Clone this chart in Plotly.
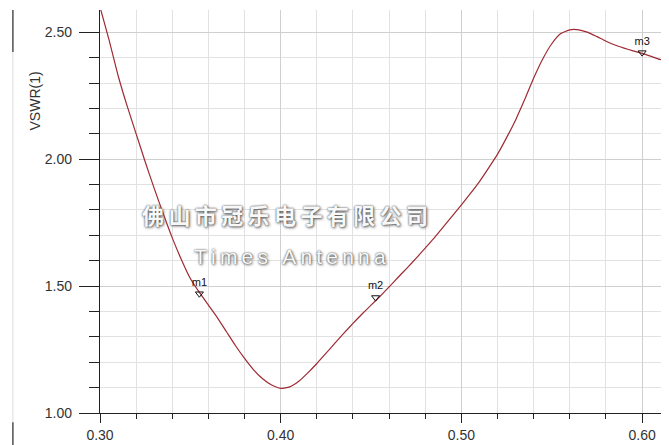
import plotly.graph_objects as go

# Frequency (GHz) and VSWR
freq = [0.300, 0.305, 0.310, 0.315, 0.320, 0.325, 0.330, 0.335, 0.340, 0.345,
        0.350, 0.355, 0.360, 0.365, 0.370, 0.375, 0.380, 0.385, 0.390, 0.395,
        0.400, 0.405, 0.410, 0.415, 0.420, 0.425, 0.430, 0.435, 0.440, 0.445,
        0.450, 0.455, 0.460, 0.465, 0.470, 0.475, 0.480, 0.485, 0.490, 0.495,
        0.500, 0.505, 0.510, 0.515, 0.520, 0.525, 0.530, 0.535, 0.540, 0.545,
        0.550, 0.555, 0.560, 0.565, 0.570, 0.575, 0.580, 0.585, 0.590, 0.595,
        0.600, 0.605, 0.610, 0.612]
vswr = [2.60, 2.47, 2.33, 2.21, 2.10, 1.99, 1.885, 1.785, 1.69, 1.605,
        1.53, 1.475, 1.425, 1.375, 1.32, 1.265, 1.215, 1.17, 1.135, 1.11,
        1.097, 1.103, 1.125, 1.158, 1.195, 1.235, 1.275, 1.315, 1.353, 1.39,
        1.425, 1.46, 1.497, 1.535, 1.572, 1.61, 1.65, 1.69, 1.733, 1.777,
        1.82, 1.865, 1.912, 1.965, 2.02, 2.085, 2.155, 2.235, 2.32, 2.395,
        2.455, 2.495, 2.51, 2.51, 2.50, 2.483, 2.465, 2.45, 2.438, 2.427,
        2.417, 2.405, 2.393, 2.39]

marker_names = ["m1", "m2", "m3"]
marker_x = [0.355, 0.4525, 0.600]
marker_y = [1.47, 1.455, 2.42]

y_title = "VSWR(1)"
watermark_cn = "佛山市冠乐电子有限公司"
watermark_en = "Times Antenna"

fig = go.Figure()
fig.add_trace(go.Scatter(x=freq, y=vswr, mode="lines",
                         line=dict(color="#9e2a33", width=1.2, shape="spline", smoothing=0.5),
                         showlegend=False, hoverinfo="skip"))
fig.add_trace(go.Scatter(x=marker_x, y=marker_y, mode="markers+text",
                         text=marker_names, textposition="top center",
                         textfont=dict(family="Liberation Sans, Arial", size=11, color="#111"),
                         marker=dict(symbol="triangle-down-open", size=7,
                                     color="#111", line=dict(width=1, color="#111")),
                         showlegend=False, hoverinfo="skip"))

tickfont = dict(family="Liberation Sans, Arial", size=14, color="#333")

fig.update_xaxes(range=[0.30, 0.611], dtick=0.1, tick0=0.30, tickformat=".2f",
                 ticks="outside", ticklen=9, tickwidth=1.3, tickcolor="#222",
                 showline=True, linecolor="#222", linewidth=1.3,
                 showgrid=True, gridcolor="#cfcfcf", gridwidth=1,
                 zeroline=False, tickfont=tickfont, automargin=False,
                 minor=dict(dtick=0.02, tick0=0.30, ticks="outside", ticklen=5,
                            tickwidth=1.3, tickcolor="#222",
                            showgrid=True, gridcolor="#e2e2e2", gridwidth=1))
fig.update_yaxes(range=[1.00, 2.588], dtick=0.5, tick0=1.0, tickformat=".2f",
                 ticks="outside", ticklen=20, tickwidth=1.3, tickcolor="#222",
                 showline=True, linecolor="#222", linewidth=1.3,
                 showgrid=True, gridcolor="#cfcfcf", gridwidth=1,
                 zeroline=False, tickfont=tickfont, ticklabelstandoff=4, automargin=False,
                 minor=dict(dtick=0.1, tick0=1.0, ticks="outside", ticklen=10,
                            tickwidth=1.3, tickcolor="#222",
                            showgrid=True, gridcolor="#e2e2e2", gridwidth=1))

fig.add_annotation(text=y_title, xref="paper", yref="paper",
                   x=-0.116, y=0.775, xanchor="center", yanchor="middle",
                   textangle=-90, showarrow=False,
                   font=dict(family="Liberation Sans, Arial", size=14, color="#333"))

# watermark
wm_shadow = "0px 0px 2px #444, 1px 1px 3px #666"
fig.add_annotation(text="\u2009".join(watermark_cn), xref="paper", yref="paper",
                   x=0.329, y=0.494, xanchor="center", yanchor="middle", showarrow=False,
                   font=dict(family="Noto Sans CJK SC", size=22, color="#f8f8f8",
                             weight="bold", shadow=wm_shadow))
fig.add_annotation(text="\u2009".join(watermark_en), xref="paper", yref="paper",
                   x=0.338, y=0.389, xanchor="center", yanchor="middle", showarrow=False,
                   font=dict(family="Liberation Sans, Arial", size=21, color="#f8f8f8",
                             shadow=wm_shadow))

# frame artefacts at the left edge
fig.add_shape(type="line", xref="paper", yref="paper", x0=-0.155, x1=-0.155,
              y0=-0.08, y1=1.0, line=dict(color="#dddddd", width=1))
fig.add_shape(type="line", xref="paper", yref="paper", x0=-0.155, x1=-0.155,
              y0=0.896, y1=1.0, line=dict(color="#555555", width=1.5))
fig.add_shape(type="line", xref="paper", yref="paper", x0=-0.155, x1=-0.155,
              y0=-0.08, y1=-0.023, line=dict(color="#555555", width=1.5))

# the page body adds an 8px offset, so margins are shifted to compensate
fig.update_layout(width=669, height=445,
                  margin=dict(l=92, r=15, t=2, b=40),
                  plot_bgcolor="white", paper_bgcolor="white")

fig.write_html("out.html")
